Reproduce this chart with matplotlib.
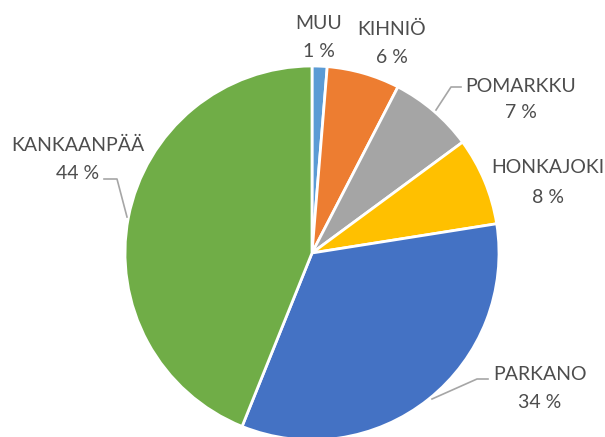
import matplotlib
matplotlib.use("Agg")
import matplotlib.pyplot as plt

# data (clockwise from top)
names = ["MUU", "KIHNIÖ", "POMARKKU", "HONKAJOKI", "PARKANO", "KANKAANPÄÄ"]
shares = [1.3, 6.3, 7.3, 7.6, 33.6, 43.9]
colors = ["#5B9BD5", "#ED7D31", "#A5A5A5", "#FFC000", "#4472C4", "#70AD47"]

# layout in pixels of the 605x437 image
W, H = 605, 437
CX, CY, R = 312, 253, 187

# label centres (x) and baselines (name, percent)
label_pos = {
    "MUU": (319, 29, 57),
    "KIHNIÖ": (392, 35, 63),
    "POMARKKU": (521, 92, 118),
    "HONKAJOKI": (548, 173, 203),
    "PARKANO": (540, 380, 408),
    "KANKAANPÄÄ": (78, 151, 179),
}
# leader lines as pixel polylines
leaders = [
    [(436, 110), (451, 87), (461, 87)],
    [(432, 399), (477, 379), (488, 379)],
    [(127, 217), (117, 179), (104, 179)],
]


def px(x, y):
    return (x - CX) / R, (CY - y) / R


fig = plt.figure(figsize=(W / 100, H / 100), dpi=100)
ax = fig.add_axes([0, 0, 1, 1])
ax.pie(shares, colors=colors, startangle=90, counterclock=False,
       wedgeprops=dict(edgecolor="white", linewidth=2))
ax.set_xlim(-CX / R, (W - CX) / R)
ax.set_ylim(-(H - CY) / R, CY / R)
ax.set_aspect("auto")
ax.axis("off")

txt = dict(family="Lato", fontsize=14, color="#4d4d4d", ha="center", va="baseline")
for name, val in zip(names, shares):
    x, yn, yp = label_pos[name]
    ax.text(*px(x, yn), name, **txt)
    ax.text(*px(x, yp), f"{val:.0f} %", **txt)

for line in leaders:
    pts = [px(x, y) for x, y in line]
    ax.plot([p[0] for p in pts], [p[1] for p in pts], color="#A6A6A6", lw=1.2)

fig.savefig("out.png", dpi=100)
